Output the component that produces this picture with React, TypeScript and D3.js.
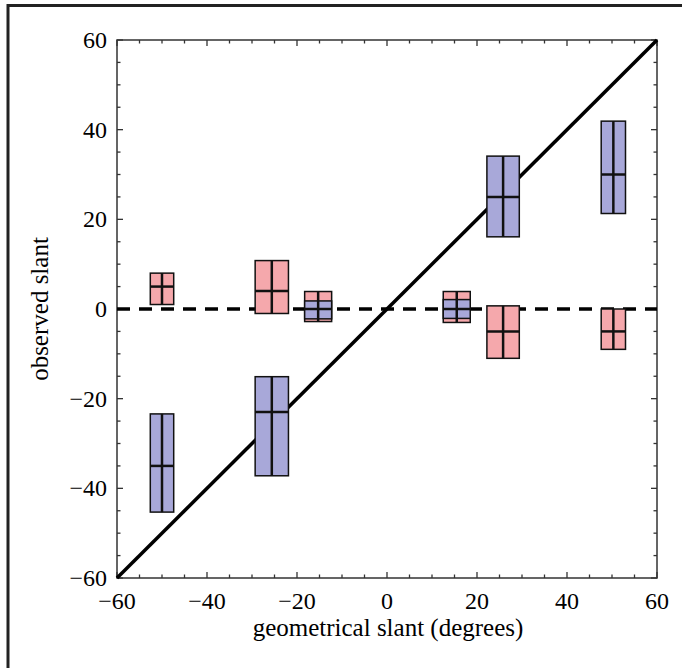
import { useEffect, useRef } from "react"
import * as d3 from "d3"

// condition centres (deg) and half widths of the boxes
const slants = [-50, -25.6, -15.3, 15.5, 25.8, 50.3]
const halfWidths = [2.6, 3.7, 3.0, 3.0, 3.6, 2.7]

// red condition: low / high / median of observed slant
const redLow = [1, -1, -2.8, -3, -11, -9]
const redHigh = [8, 10.8, 3.9, 3.9, 0.7, 0]
const redMid = [5, 4, 0, 0, -5, -5]

// blue condition
const blueLow = [-45.3, -37.2, -2.2, -2.1, 16.1, 21.3]
const blueHigh = [-23.4, -15.1, 1.8, 2.1, 34.1, 41.9]
const blueMid = [-35, -23, 0, 0, 25, 30]

const tickLabels = [-60, -40, -20, 0, 20, 40, 60]
const minorTicks = d3.range(-60, 61, 5)

const W = 682
const H = 668
const font = "'Liberation Serif', 'Times New Roman', serif"

const fmt = (v: number) => (v < 0 ? "\u2212" + Math.abs(v) : String(v))

const App = () => {
    const ref = useRef<SVGSVGElement>(null)

    useEffect(() => {
        const svg = d3.select(ref.current)
        svg.selectAll("*").remove()

        const x = d3.scaleLinear().domain([-60, 60]).range([117, 657])
        const y = d3.scaleLinear().domain([-60, 60]).range([578, 40])

        // outer figure frame (top + left only)
        svg.append("path")
            .attr("d", `M8,${H} L8,5.5 L${W},5.5`)
            .attr("fill", "none")
            .attr("stroke", "#222")
            .attr("stroke-width", 3)

        // plot frame
        svg.append("rect")
            .attr("x", x(-60))
            .attr("y", y(60))
            .attr("width", x(60) - x(-60))
            .attr("height", y(-60) - y(60))
            .attr("fill", "none")
            .attr("stroke", "#333")
            .attr("stroke-width", 1.5)

        // ticks on all four sides, pointing inward
        const tickLen = (v: number) => (v % 20 === 0 ? 6 : 3.5)
        const ticks = svg.append("g").attr("stroke", "#333").attr("stroke-width", 1.3)
        minorTicks.forEach(v => {
            const l = tickLen(v)
            ticks.append("line").attr("x1", x(v)).attr("x2", x(v)).attr("y1", y(-60)).attr("y2", y(-60) - l)
            ticks.append("line").attr("x1", x(v)).attr("x2", x(v)).attr("y1", y(60)).attr("y2", y(60) + l)
            ticks.append("line").attr("y1", y(v)).attr("y2", y(v)).attr("x1", x(-60)).attr("x2", x(-60) + l)
            ticks.append("line").attr("y1", y(v)).attr("y2", y(v)).attr("x1", x(60)).attr("x2", x(60) - l)
        })

        // tick labels
        svg.append("g")
            .selectAll("text")
            .data(tickLabels)
            .enter()
            .append("text")
            .attr("x", d => x(d))
            .attr("y", 609)
            .attr("text-anchor", "middle")
            .attr("font-family", font)
            .attr("font-size", 24)
            .text(d => fmt(d))

        svg.append("g")
            .selectAll("text")
            .data(tickLabels)
            .enter()
            .append("text")
            .attr("x", 107)
            .attr("y", d => y(d))
            .attr("dy", "0.34em")
            .attr("text-anchor", "end")
            .attr("font-family", font)
            .attr("font-size", 24)
            .text(d => fmt(d))

        // axis titles
        svg.append("text")
            .attr("x", 388)
            .attr("y", 636)
            .attr("text-anchor", "middle")
            .attr("font-family", font)
            .attr("font-size", 25)
            .text("geometrical slant (degrees)")

        svg.append("text")
            .attr("transform", `translate(48, ${y(0)}) rotate(-90)`)
            .attr("text-anchor", "middle")
            .attr("font-family", font)
            .attr("font-size", 25)
            .text("observed slant")

        // zero line and identity line
        svg.append("line")
            .attr("x1", x(-60)).attr("x2", x(60))
            .attr("y1", y(0)).attr("y2", y(0))
            .attr("stroke", "black")
            .attr("stroke-width", 3.5)
            .attr("stroke-dasharray", "13,9")

        svg.append("line")
            .attr("x1", x(-60)).attr("x2", x(60))
            .attr("y1", y(-60)).attr("y2", y(60))
            .attr("stroke", "black")
            .attr("stroke-width", 3.5)

        // boxes: red drawn first so blue sits on top where they overlap
        const drawBoxes = (low: number[], high: number[], mid: number[], fill: string) => {
            const g = svg.append("g")
            slants.forEach((s, i) => {
                const x0 = x(s - halfWidths[i])
                const x1 = x(s + halfWidths[i])
                g.append("rect")
                    .attr("x", x0)
                    .attr("y", y(high[i]))
                    .attr("width", x1 - x0)
                    .attr("height", y(low[i]) - y(high[i]))
                    .attr("fill", fill)
                    .attr("stroke", "#111")
                    .attr("stroke-width", 1.5)
                g.append("line")
                    .attr("x1", x(s)).attr("x2", x(s))
                    .attr("y1", y(high[i])).attr("y2", y(low[i]))
                    .attr("stroke", "#111")
                    .attr("stroke-width", 2.5)
                g.append("line")
                    .attr("x1", x0).attr("x2", x1)
                    .attr("y1", y(mid[i])).attr("y2", y(mid[i]))
                    .attr("stroke", "#111")
                    .attr("stroke-width", 2.5)
            })
        }
        drawBoxes(redLow, redHigh, redMid, "#f5a8ac")
        drawBoxes(blueLow, blueHigh, blueMid, "#a8a8d9")
    }, [])

    return (
        <svg
            ref={ref}
            width={W}
            height={H}
            style={{ position: "absolute", left: 0, top: 0, background: "white" }}
        />
    )
}

export default App
